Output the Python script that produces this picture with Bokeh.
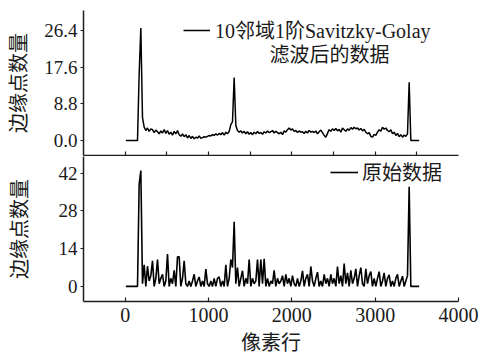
from bokeh.plotting import figure
from bokeh.layouts import column
from bokeh.models import Range1d, FixedTicker, Legend, LegendItem, Label, PrintfTickFormatter
from bokeh.embed import file_html
from bokeh.resources import INLINE

# ---------------- data ----------------
# pixel row index (x), sampled every 20 rows
rows = list(range(8, 3529, 20))

# 10-neighbour 1st-order Savitzky-Golay filtered edge-point counts
filtered = [0, 0, 0, 0, 0, 0, 0, 0,
            16, 27, 5.5, 3.2, 2.4, 3.0, 2.2, 2.8, 2.6, 1.9, 2.5, 2.1,
            1.6, 2.3, 1.8, 2.6, 1.7, 2.4, 1.5, 2.0, 1.3, 2.2,
            1.6, 2.4, 1.4, 1.0, 1.6, 0.9, 1.4, 0.6, 1.2, 0.5,
            1.0, 0.4, 0.8, 0.6, 1.1, 0.5, 0.7, 0.9, 0.8, 1.0,
            1.2, 1.1, 1.4, 1.2, 1.6, 1.3, 1.7, 1.4, 1.9, 1.3,
            2.0, 1.6, 2.2, 3.8, 4.5, 15.1, 3.6, 2.4, 2.0, 2.3,
            1.8, 2.2, 1.6, 2.1, 1.5, 1.9, 1.4, 2.0, 1.6, 2.2,
            1.7, 1.9, 1.5, 2.1, 1.8, 2.3, 1.9, 2.1, 2.4, 1.8,
            2.2, 1.9, 1.6, 2.0, 1.4, 2.3, 2.0, 2.6, 3.0, 2.5,
            2.8, 2.2, 2.4, 1.9, 2.3, 2.0, 2.1, 1.7, 2.2, 1.8,
            2.4, 2.0, 2.2, 1.9, 2.3, 1.6, 2.1, 2.5, 1.9, 1.2,
            0.8, 1.7, 2.6, 2.2, 2.8, 2.4, 2.9, 2.3, 2.7, 2.0,
            3.0, 2.6, 2.2, 2.8, 2.4, 3.1, 2.7, 3.2, 2.8, 3.0,
            2.5, 2.9, 2.3, 2.7, 2.0, 1.6, 1.9, 1.0, 0.8, 1.5,
            1.2, 2.0, 2.6, 2.2, 3.2, 2.7, 3.0, 2.4, 2.1, 2.6,
            1.6, 2.0, 1.2, 1.7, 0.9, 1.4, 0.8, 1.3, 1.0, 1.6,
            14.0,
            0, 0, 0, 0, 0, 0]

# raw edge-point counts
raw = [0, 0, 0, 0, 0, 0, 0, 0,
       38, 43,
       1, 8, 0, 7.5, 2, 4, 9.5, 0, 3, 10,
       1, 3, 4.5, 0, 2, 12, 0, 3, 1, 6,
       0, 11, 11, 0, 3, 9.5, 1, 0, 2, 0,
       2, 4.5, 0, 2, 3.5, 0, 2, 0, 6.4, 1,
       0, 2, 0, 3, 0, 3, 3.5, 0, 2, 0,
       8, 0, 3, 10, 7, 24, 1, 7, 0, 3,
       5.8, 0, 3, 1, 10, 0, 3, 1, 2, 10,
       0, 10, 1, 10.2, 0, 3, 0, 2, 1, 6,
       0, 3, 1, 2, 4, 0, 4.5, 1, 3, 0,
       4, 1, 0, 3, 0, 2, 5.8, 0, 3, 4.5,
       0, 7.4, 2, 0, 3, 5.3, 0, 2, 0, 4.5,
       1, 3, 0, 4.5, 1, 3, 0, 7.4, 1, 4,
       0, 8.5, 1, 5, 0, 6, 1, 3, 6.5, 0,
       4, 7, 1, 0, 6.5, 1, 4, 5.5, 0, 3,
       0, 3, 5.5, 0, 2, 5, 0, 3, 4.3, 0,
       2, 0, 3, 4.5, 0, 2, 3.8, 0, 2, 4,
       37,
       0, 0, 0, 0, 0, 0]

top_yticks = [0, 8.8, 17.6, 26.4]
bottom_yticks = [0, 14, 28, 42]
top_xticks = [0, 500, 1000, 1500, 2000, 2500, 3000, 3500]
bottom_xticks = [0, 1000, 2000, 3000, 4000]

label_filtered = "10邻域1阶Savitzky-Golay"
label_filtered2 = "滤波后的数据"
label_raw = "原始数据"
ylabel = "边缘点数量"
xlabel = "像素行"

# ---------------- style ----------------
FONT = "'Liberation Serif', 'Noto Sans CJK SC'"
TXT = "#1a1a1a"
AX = "#1e1e1e"
W = 479


def style(p):
    p.outline_line_color = None
    p.xgrid.visible = False
    p.ygrid.visible = False
    p.background_fill_color = None
    p.border_fill_color = None
    for ax in p.xaxis + p.yaxis:
        ax.axis_line_color = AX
        ax.axis_line_width = 1.5
        ax.major_tick_line_color = AX
        ax.major_tick_line_width = 1.2
        ax.minor_tick_line_color = None
        ax.major_label_text_font = FONT
        ax.major_label_text_color = TXT
        ax.axis_label_text_font = FONT
        ax.axis_label_text_font_size = "20px"
        ax.axis_label_text_font_style = "normal"
        ax.axis_label_text_color = TXT
    for ax in p.yaxis:
        ax.major_tick_in = 0
        ax.major_tick_out = 3
        ax.major_label_standoff = 3
        ax.major_label_text_font_size = "19px"


x_range = Range1d(-500, 4000)

p1 = figure(width=W, height=156, x_range=x_range, y_range=Range1d(-3.6, 31.2),
            output_backend="svg", toolbar_location=None,
            min_border_left=83, min_border_right=21, min_border_top=10, min_border_bottom=1)
r1 = p1.line(rows, filtered, line_color="black", line_width=1.5)
style(p1)
p1.yaxis.ticker = FixedTicker(ticks=top_yticks)
p1.yaxis.formatter = PrintfTickFormatter(format="%.1f")
p1.yaxis.axis_label = ylabel
p1.yaxis.axis_label_standoff = 11
# divider axis between the panels: ticks only, no labels
p1.xaxis.ticker = FixedTicker(ticks=[], minor_ticks=top_xticks)
p1.xaxis.axis_line_width = 1.6
p1.xaxis.minor_tick_line_color = AX
p1.xaxis.minor_tick_line_width = 1.2
p1.xaxis.minor_tick_in = 4
p1.xaxis.minor_tick_out = 0
p1.xaxis.major_tick_in = 0
p1.xaxis.major_tick_out = 0
p1.xaxis.major_label_standoff = 0

leg1 = Legend(items=[LegendItem(label=label_filtered, renderers=[r1])],
              location=(100, 111), padding=0, margin=0, spacing=0,
              border_line_color=None, background_fill_alpha=0,
              glyph_width=27, label_standoff=5,
              label_text_font=FONT, label_text_font_size="20px", label_text_color=TXT)
p1.add_layout(leg1)
p1.add_layout(Label(x=246, y=101, x_units="screen", y_units="screen", text=label_filtered2,
                    text_align="center", text_baseline="middle",
                    text_font=FONT, text_font_size="20px", text_color=TXT))

p2 = figure(width=W, height=205, x_range=x_range, y_range=Range1d(-5.6, 48.2),
            output_backend="svg", toolbar_location=None,
            min_border_left=83, min_border_right=21, min_border_top=0, min_border_bottom=60)
r2 = p2.line(rows, raw, line_color="black", line_width=1.6)
style(p2)
p2.yaxis.ticker = FixedTicker(ticks=bottom_yticks)
p2.yaxis.axis_label = ylabel
p2.yaxis.axis_label_standoff = 25
p2.xaxis.ticker = FixedTicker(ticks=bottom_xticks)
p2.xaxis.major_tick_in = 4
p2.xaxis.major_tick_out = 0
p2.xaxis.major_label_standoff = 6
p2.xaxis.major_label_text_font_size = "20px"
p2.xaxis.axis_label = xlabel
p2.xaxis.axis_label_standoff = 7

leg2 = Legend(items=[LegendItem(label=label_raw, renderers=[r2])],
              location=(247, 115), padding=0, margin=0, spacing=0,
              border_line_color=None, background_fill_alpha=0,
              glyph_width=28, label_standoff=4,
              label_text_font=FONT, label_text_font_size="20px", label_text_color=TXT)
p2.add_layout(leg2)

layout = column(p1, p2, spacing=0)
open("out.html", "w").write(file_html(layout, INLINE))
